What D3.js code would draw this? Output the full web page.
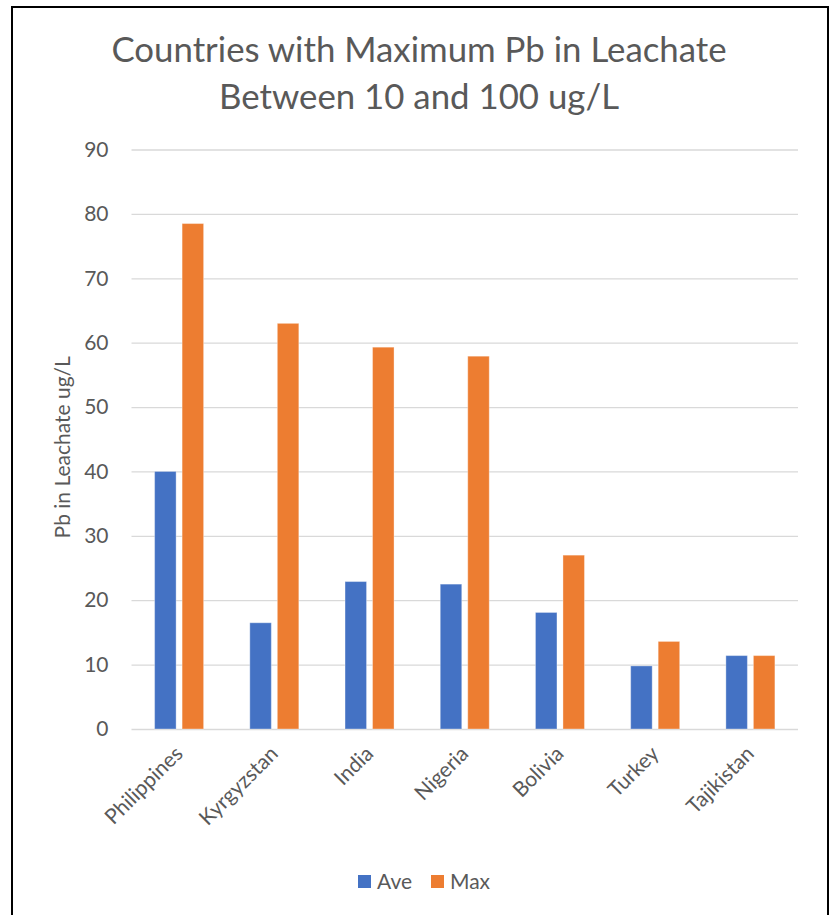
<!DOCTYPE html>
<html>
<head>
<meta charset="utf-8">
<script src="https://cdn.jsdelivr.net/npm/d3@7"></script>
<style>
  html, body { margin: 0; padding: 0; background: #fff; }
  svg { display: block; }
  text { font-family: Lato, "Open Sans", sans-serif; fill: #595959; }
</style>
</head>
<body>
<svg id="chart" width="831" height="915"></svg>
<script>
// Chart data
const categories = ["Philippines", "Kyrgyzstan", "India", "Nigeria", "Bolivia", "Turkey", "Tajikistan"];
const seriesNames = ["Ave", "Max"];
const aveValues = [40.0, 16.5, 22.9, 22.5, 18.1, 9.8, 11.4];
const maxValues = [78.5, 63.0, 59.3, 57.9, 27.0, 13.6, 11.4];
const yTicks = [0, 10, 20, 30, 40, 50, 60, 70, 80, 90];
const titleLines = ["Countries with Maximum Pb in Leachate", "Between 10 and 100 ug/L"];
const yAxisTitle = "Pb in Leachate ug/L";

const colors = { Ave: "#4472C4", Max: "#ED7D31" };
const rows = categories.map((c, i) => ({ category: c, Ave: aveValues[i], Max: maxValues[i] }));

const svg = d3.select("#chart");

// outer frame
svg.append("path")
  .attr("d", "M12,915 L12,7 L828,7 L828,915")
  .attr("fill", "none")
  .attr("stroke", "#000")
  .attr("stroke-width", 2);

const plot = { left: 131.5, right: 798, top: 149.5, bottom: 729 };

const x = d3.scaleBand().domain(categories).range([plot.left, plot.right]).padding(0);
const x1 = d3.scaleBand().domain(seriesNames).range([0, x.bandwidth()])
  .paddingInner(0.218).paddingOuter(0.84);
const y = d3.scaleLinear().domain([0, 90]).range([plot.bottom, plot.top]);

// gridlines and value labels
const yAxis = d3.axisLeft(y).tickValues(yTicks).tickSize(-(plot.right - plot.left)).tickPadding(20);
const gy = svg.append("g").attr("transform", `translate(${plot.left},0)`).call(yAxis);
gy.select(".domain").remove();
gy.selectAll(".tick line").attr("stroke", "#D9D9D9").attr("stroke-width", 1.3);
gy.selectAll(".tick text")
  .attr("fill", "#595959")
  .style("font-size", "21px")
  .attr("x", -23);

// bars
const groups = svg.append("g").selectAll("g")
  .data(rows).join("g")
  .attr("transform", d => `translate(${x(d.category)},0)`);

groups.selectAll("rect")
  .data(d => seriesNames.map(s => ({ key: s, value: d[s] })))
  .join("rect")
  .attr("x", d => x1(d.key))
  .attr("width", x1.bandwidth())
  .attr("y", d => y(d.value))
  .attr("height", d => y(0) - y(d.value))
  .attr("fill", d => colors[d.key])
  .attr("stroke", "rgba(255,255,255,0.35)")
  .attr("stroke-width", 1);

// category labels, rotated
const xAxis = d3.axisBottom(x).tickSize(0).tickPadding(0);
const gx = svg.append("g").attr("transform", `translate(0,${plot.bottom})`).call(xAxis);
gx.select(".domain").remove();
gx.selectAll(".tick text")
  .attr("fill", "#595959")
  .style("font-size", "21px")
  .attr("text-anchor", "end")
  .attr("dy", null)
  .attr("y", null)
  .attr("transform", "translate(5,26) rotate(-45)");

// title
const title = svg.append("g");
title.selectAll("text").data(titleLines).join("text")
  .attr("x", 419)
  .attr("y", (d, i) => 62 + i * 47)
  .attr("text-anchor", "middle")
  .style("font-size", "34.8px")
  .text(d => d);

// y-axis title
svg.append("text")
  .attr("transform", `translate(70,${(plot.top + plot.bottom) / 2 + 8}) rotate(-90)`)
  .attr("text-anchor", "middle")
  .style("font-size", "21px")
  .text(yAxisTitle);

// legend
const legend = svg.append("g").attr("transform", "translate(358,875)");
const legendX = { Ave: 0, Max: 73 };
const li = legend.selectAll("g").data(seriesNames).join("g")
  .attr("transform", d => `translate(${legendX[d]},0)`);
li.append("rect").attr("width", 13).attr("height", 13).attr("fill", d => colors[d]);
li.append("text").attr("x", 19).attr("y", 13.5).style("font-size", "21px").text(d => d);
</script>
</body>
</html>
